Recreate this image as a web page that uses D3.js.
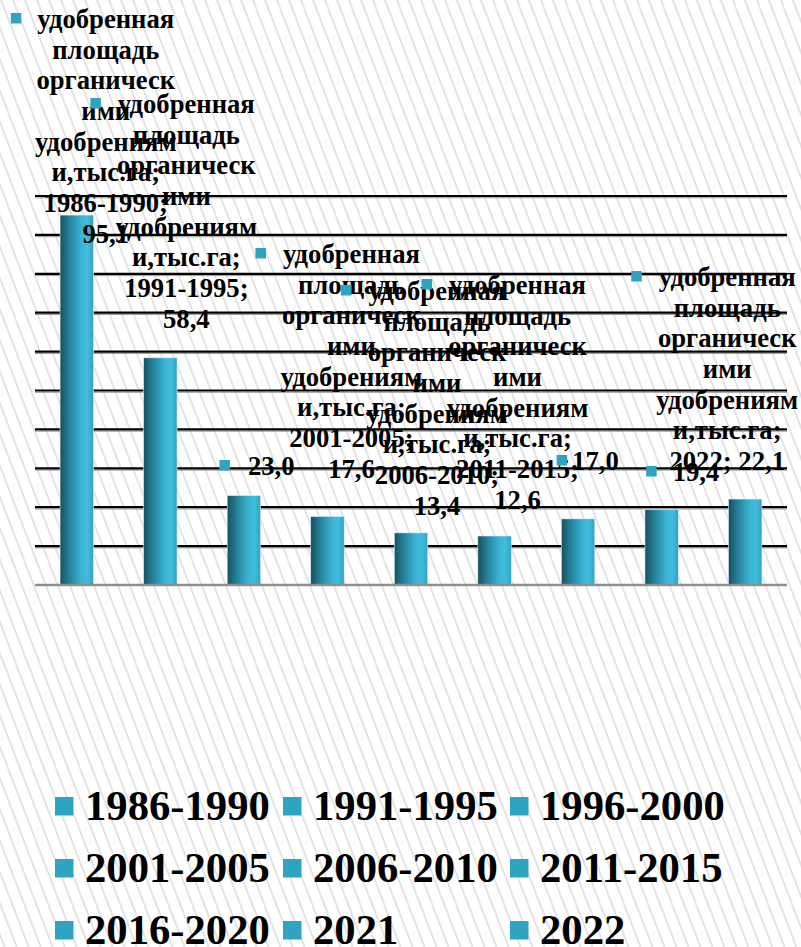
<!DOCTYPE html>
<html><head><meta charset="utf-8">
<script src="https://cdn.jsdelivr.net/npm/d3@7"></script>
<style>html,body{margin:0;padding:0;background:#fff;}svg{display:block;}</style>
</head><body>
<svg id="chart" width="801" height="947"></svg>
<script>
// ---- data ----
const categories = ["1986-1990","1991-1995","1996-2000","2001-2005","2006-2010","2011-2015","2016-2020","2021","2022"];
const values = [95.1, 58.4, 23.0, 17.6, 13.4, 12.6, 17.0, 19.4, 22.1];
const seriesLines = ["удобренная","площадь","органическ","ими","удобрениям","и,тыс.га;"];
// which labels show the full series text (true) or only the value (false)
const fullLabel = [true, true, false, true, true, true, false, false, true];
const yTicks = [0,10,20,30,40,50,60,70,80,90,100];

// ---- layout (not data) ----
const W = 801, H = 947;
const plot = {left: 35, right: 787, top: 196, bottom: 585};
// label layout: dx from bar centre, baseline of first line, anchor, marker gap
const labelLayout = [
  {dx: 29, y: 28, anchor: "middle", gap: 16},
  {dx: 26, y: 113, anchor: "middle", gap: 17},
  {dx: 4, y: 475, anchor: "start", gap: 18},
  {dx: 24, y: 263, anchor: "middle", gap: 17},
  {dx: 26, y: 300, anchor: "middle", gap: 17},
  {dx: 23, y: 294, anchor: "middle", gap: 17},
  {dx: -6, y: 470, anchor: "start", gap: 5},
  {dx: 11, y: 481, anchor: "start", gap: 16},
  {dx: -18, y: 286, anchor: "middle", gap: 17}
];
const lineH = 30.67;
const fontFam = "'Liberation Serif','Times New Roman',serif";
const teal = "#2ea4c1";

const svg = d3.select("#chart");
const defs = svg.append("defs");

// striped background
const pat = defs.append("pattern").attr("id","stripes").attr("patternUnits","userSpaceOnUse")
  .attr("width", 11.2).attr("height", 40).attr("patternTransform","rotate(-21)");
pat.append("rect").attr("width",11.2).attr("height",40).attr("fill","#ffffff");
pat.append("line").attr("x1",1).attr("x2",1).attr("y1",0).attr("y2",40)
  .attr("stroke","#dedede").attr("stroke-width",1.6);
svg.append("rect").attr("width",W).attr("height",H).attr("fill","url(#stripes)");

// bar gradient
const grad = defs.append("linearGradient").attr("id","barGrad").attr("x1","0").attr("x2","1").attr("y1","0").attr("y2","0");
[[0,"#174f5f"],[0.15,"#1f6a7e"],[0.4,"#2b93ae"],[0.65,"#3cb5d5"],[0.82,"#41bcdd"],[1,"#32a2c2"]]
  .forEach(([o,c]) => grad.append("stop").attr("offset",o).attr("stop-color",c));

const x = d3.scaleBand().domain(categories).range([plot.left, plot.right]).paddingInner(0.6).paddingOuter(0.3);
const y = d3.scaleLinear().domain([0,100]).range([plot.bottom, plot.top]);

// gridlines
const grid = svg.append("g");
yTicks.filter(t => t > 0).forEach(t => {
  grid.append("line").attr("x1",plot.left).attr("x2",plot.right)
    .attr("y1",y(t)+1.8).attr("y2",y(t)+1.8).attr("stroke","#9a9a9a").attr("stroke-width",1);
  grid.append("line").attr("x1",plot.left).attr("x2",plot.right)
    .attr("y1",y(t)).attr("y2",y(t)).attr("stroke","#000").attr("stroke-width",2.2);
});

// bars
svg.append("g").selectAll("rect").data(values).join("rect")
  .attr("x",(d,i) => x(categories[i]))
  .attr("y",d => y(d))
  .attr("width", x.bandwidth())
  .attr("height", d => y(0) - y(d))
  .attr("fill","url(#barGrad)")
  .attr("stroke","#d8eef4").attr("stroke-width",0.6);

// baseline
svg.append("line").attr("x1",plot.left).attr("x2",plot.right)
  .attr("y1",y(0)).attr("y2",y(0)).attr("stroke","#8f8f8f").attr("stroke-width",2.5);

// data labels
const fmt = v => v.toFixed(1).replace(".", ",");
const lg = svg.append("g").attr("font-family",fontFam).attr("font-weight","bold").attr("font-size","26.67px").attr("fill","#000");
values.forEach((v,i) => {
  const L = labelLayout[i];
  const cx = x(categories[i]) + x.bandwidth()/2 + L.dx;
  let lines;
  if (fullLabel[i]) {
    lines = seriesLines.slice();
    if (categories[i].length > 4) { lines.push(categories[i] + ";"); lines.push(fmt(v)); }
    else lines.push(categories[i] + "; " + fmt(v));
  } else lines = [fmt(v)];
  const g = lg.append("g");
  let firstLeft = cx;
  lines.forEach((t,k) => {
    const tx = g.append("text").attr("x",cx).attr("y",L.y + k*lineH)
      .attr("text-anchor",L.anchor).text(t);
    if (k === 0) {
      const w = tx.node().getComputedTextLength();
      firstLeft = L.anchor === "middle" ? cx - w/2 : cx;
    }
  });
  g.append("rect").attr("x", firstLeft - L.gap - 10.5).attr("y", L.y - 15)
    .attr("width",10.5).attr("height",10.5).attr("fill",teal);
});

// legend
const legCols = [55, 283, 510], legRows = [820, 882, 944];
const leg = svg.append("g").attr("font-family",fontFam).attr("font-weight","bold").attr("font-size","42.67px");
categories.forEach((c,i) => {
  const cx = legCols[i % 3], cy = legRows[Math.floor(i/3)];
  leg.append("rect").attr("x",cx).attr("y",cy-23).attr("width",18.5).attr("height",18.5).attr("fill",teal);
  leg.append("text").attr("x",cx+30).attr("y",cy).attr("fill","#000").text(c);
});
</script>
</body></html>
